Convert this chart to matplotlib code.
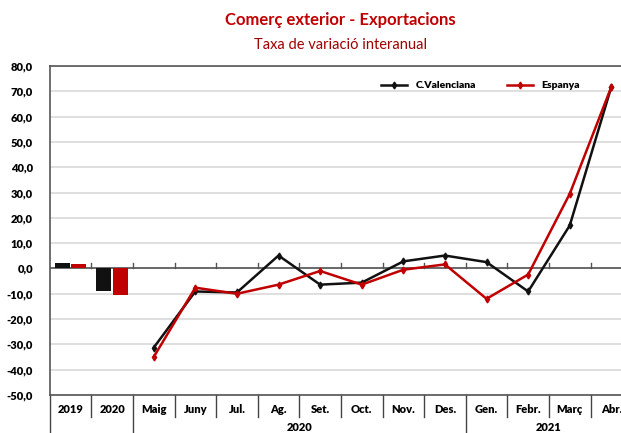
import numpy as np
import matplotlib.pyplot as plt

plt.rcParams['font.family'] = ['Lato', 'DejaVu Sans']

categories = ['2019', '2020', 'Maig', 'Juny', 'Jul.', 'Ag.', 'Set.', 'Oct.',
              'Nov.', 'Des.', 'Gen.', 'Febr.', 'Març', 'Abr.']
years = ['2020', '2021']

# annual bars
bar_cv = [2.2, -9.0]
bar_es = [1.7, -10.3]

# monthly lines (Maig 2020 .. Abr. 2021)
line_cv = [-31.3, -9.1, -9.5, 5.1, -6.4, -5.6, 2.8, 5.1, 2.5, -9.1, 17.0, 71.8]
line_es = [-35.0, -7.6, -10.0, -6.4, -1.0, -6.4, -0.5, 1.6, -12.0, -2.4, 29.5, 71.8]

red = '#C00000'

fig = plt.figure(figsize=(6.21, 4.33), dpi=100)
ax = fig.add_axes([0.080, 0.0878, 0.938, 0.7598])

x_bar = np.arange(2)
ax.bar(x_bar - 0.2, bar_cv, width=0.36, color='#111111', zorder=3)
ax.bar(x_bar + 0.2, bar_es, width=0.36, color=red, zorder=3)

x_line = np.arange(2, 14)
ax.plot(x_line, line_cv, color='#111111', lw=1.8, marker='d', ms=3.5, zorder=4,
        label='C.Valenciana')
ax.plot(x_line, line_es, color=red, lw=1.8, marker='d', ms=3.5, zorder=5,
        label='Espanya')

ax.set_xlim(-0.5, 13.5)
ax.set_ylim(-50, 80)
ax.set_yticks(np.arange(-50, 81, 10))
ax.set_yticklabels([f'{v:.1f}'.replace('.', ',') for v in np.arange(-50, 81, 10)],
                   fontweight='heavy', fontsize=8)
ax.tick_params(axis='y', length=0, pad=12)
ax.grid(axis='y', color='#d9d9d9', lw=1.2, zorder=0)
ax.set_xticks([])

ax.spines['right'].set_visible(False)
for s in ['left', 'top', 'bottom']:
    ax.spines[s].set_color('#555555')
    ax.spines[s].set_linewidth(1.2)

# zero line with small tick marks
ax.axhline(0, color='#555555', lw=1.2, zorder=2)
for xs in np.arange(0.5, 13.5, 1):
    ax.plot([xs, xs], [0, 2.2], color='#555555', lw=1, zorder=2)

# category labels below the plot
tr = ax.get_xaxis_transform()
for i, lab in enumerate(categories):
    ax.text(i, -0.045, lab, transform=tr, ha='center', va='center',
            fontsize=8, fontweight='heavy')
for xs in np.arange(-0.5, 14, 1):
    bottom = -0.25 if xs in (-0.5, 1.5, 9.5) else -0.068
    ax.plot([xs, xs], [0, bottom], transform=tr, color='#444444', lw=1,
            clip_on=False)
ax.text(5.5, -0.098, years[0], transform=tr, ha='center', va='center',
        fontsize=8, fontweight='heavy')
ax.text(11.5, -0.098, years[1], transform=tr, ha='center', va='center',
        fontsize=8, fontweight='heavy')

ax.legend(loc='center', bbox_to_anchor=(0.74, 0.94), ncol=2, frameon=False,
          prop={'weight': 'heavy', 'size': 7.5}, handlelength=2.5,
          columnspacing=3)

fig.text(0.548, 0.954, 'Comerç exterior - Exportacions', ha='center',
         va='center', fontsize=12, fontweight='bold', color=red)
fig.text(0.548, 0.896, 'Taxa de variació interanual', ha='center',
         va='center', fontsize=10.5, color='#A00000')

fig.savefig('out.png', dpi=100)
